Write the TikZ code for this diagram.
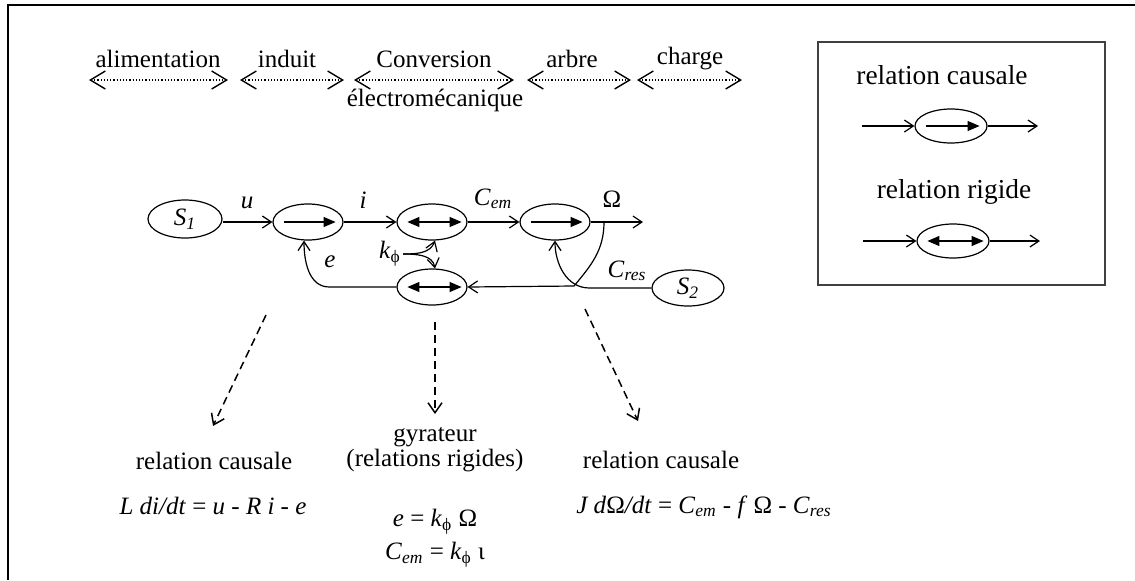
\documentclass[tikz,border=0pt]{standalone}
\usepackage{fontspec}
\setmainfont{Liberation Serif}
\usetikzlibrary{arrows.meta,shapes.geometric}
\newcommand{\lowtxt}[1]{\textsubscript{\itshape #1}}

\begin{document}
\begin{tikzpicture}[x=0.5pt,y=-0.5pt,
  font=\fontsize{12.5}{15}\selectfont,
  every node/.style={inner sep=1pt},
  bloc/.style={draw,ellipse,line width=0.6pt,minimum width=35pt,minimum height=18pt,inner sep=0pt},
  conn/.style={-{Straight Barb[length=4.5pt,width=6pt]},line width=0.6pt},
  span/.style={{Straight Barb[length=7.5pt,width=9pt,line width=0.7pt]}-{Straight Barb[length=7.5pt,width=9pt,line width=0.7pt]},densely dotted,line width=0.6pt},
  link/.style={-{Straight Barb[length=5pt,width=7pt]},dash pattern=on 4pt off 2.5pt,line width=0.75pt},
  cause/.style={-{Triangle[length=6pt,width=5pt]},line width=0.6pt},
  rigid/.style={{Triangle[length=6pt,width=5pt]}-{Triangle[length=6pt,width=5pt]},line width=0.6pt},
  legend/.style={font=\fontsize{13.7}{16}\selectfont}]
  \useasboundingbox (0,0) rectangle (1135,580);
  % outer frame
  \draw[line width=1.1pt] (8,580) -- (8,5) -- (1135,5);

  % domains along the chain
  \node (alim) at (158,59) {alimentation};
  \node (induit) at (287,59) {induit};
  \node (conv) at (434,59) {Conversion};
  \node (convb) at (435,100) {électromécanique};
  \node (arbre) at (572,59) {arbre};
  \node (charge) at (690,59) {charge};
  \coordinate (sp1a) at (89,80);  \coordinate (sp1b) at (228,80);
  \coordinate (sp2a) at (240,80); \coordinate (sp2b) at (344,80);
  \coordinate (sp3a) at (354,80); \coordinate (sp3b) at (514,80);
  \coordinate (sp4a) at (527,80); \coordinate (sp4b) at (631,80);
  \coordinate (sp5a) at (637,80); \coordinate (sp5b) at (742,80);
  \draw[span] (sp1a) -- (sp1b);
  \draw[span] (sp2a) -- (sp2b);
  \draw[span] (sp3a) -- (sp3b);
  \draw[span] (sp4a) -- (sp4b);
  \draw[span] (sp5a) -- (sp5b);

  % blocks of the graph
  \node[bloc,minimum width=37pt,minimum height=19pt] (src1) at (185,219) {\textit{S}\lowtxt{1}};
  \node[bloc] (causA) at (308,222) {};
  \node[bloc] (gyrA) at (432,222) {};
  \node[bloc] (gyrB) at (432,287) {};
  \node[bloc] (causB) at (555,222) {};
  \node[bloc,minimum width=36pt] (src2) at (688,288) {\textit{S}\lowtxt{2}};
  \coordinate (omega) at (643,222);
  \coordinate (tap) at (604,222);
  \draw[cause] ([xshift=6pt]causA.west) -- ([xshift=-4pt]causA.east);
  \draw[cause] ([xshift=6pt]causB.west) -- ([xshift=-4pt]causB.east);
  \draw[rigid] ([xshift=5.5pt]gyrA.west) -- ([xshift=-3pt]gyrA.east);
  \draw[rigid] ([xshift=5.5pt]gyrB.west) -- ([xshift=-3pt]gyrB.east);

  % connectors
  \draw[conn] (src1.east |- causA.west) -- (causA.west);
  \draw[conn] (causA.east) -- (gyrA.west);
  \draw[conn] (gyrA.east) -- (causB.west);
  \draw[conn] (causB.east) -- (omega);
  \draw[conn] (gyrB.west) -- ++(-67,0) to[out=180,in=-90] ([xshift=-2pt]causA.south);
  \draw[conn] (tap) to[out=-90,in=50] ++(-30,64) -- (gyrB.east);
  \draw[conn] (src2.west) -- ++(-62,0) to[out=180,in=-90] (causB.south);
  \node (kphi) at (390,254) {\textit{k}\textsubscript{ϕ}};
  \draw[conn] (kphi.east) to[out=0,in=-110] ([xshift=1.5pt]gyrA.south);
  \draw[conn] (kphi.east) to[out=0,in=100] ([xshift=1.5pt]gyrB.north);

  % variable names
  \node (lblu) at (247,203) {\textit{u}};
  \node (lbli) at (363,200) {\textit{i}};
  \node (lblcem) at (493,199) {\textit{C}\lowtxt{em}};
  \node (lblom) at (612,199) {Ω};
  \node (lble) at (330,262) {\textit{e}};
  \node (lblcres) at (627,271) {\textit{C}\lowtxt{res}};

  % equations below
  \coordinate (dA1) at (266,315); \coordinate (dA2) at (213,426);
  \coordinate (dB1) at (435,322); \coordinate (dB2) at (435,414);
  \coordinate (dC1) at (585,309); \coordinate (dC2) at (638,421);
  \draw[link] (dA1) -- (dA2);
  \draw[link] (dB1) -- (dB2);
  \draw[link] (dC1) -- (dC2);
  \node (relA) at (214,461) {relation causale};
  \node (eqA) at (213,506) {\textit{L di/dt} = \textit{u} - \textit{R i} - \textit{e}};
  \node (gyr) at (435,437) {gyrateur};
  \node (gyrrel) at (435,461) {(relations rigides)};
  \node (eqB1) at (435,522) {\textit{e} = \textit{k}\textsubscript{ϕ} Ω};
  \node (eqB2) at (435,555) {\textit{C}\lowtxt{em} = \textit{k}\textsubscript{ϕ} ι};
  \node (relB) at (661,460) {relation causale};
  \node (eqC) at (704,507) {\textit{J d}Ω\textit{/dt} = \textit{C}\lowtxt{em} - \textit{f} Ω - \textit{C}\lowtxt{res}};

  % legend
  \draw[line width=0.6pt,black!75] (818,42) rectangle (1105,285);
  \node[legend] (legCtxt) at (942,75) {relation causale};
  \node[bloc,minimum width=36pt,minimum height=17pt] (legC) at (951,126) {};
  \coordinate (legCin) at (862,126); \coordinate (legCout) at (1038,126);
  \draw[conn] (legCin) -- (legC.west);
  \draw[conn] (legC.east) -- (legCout);
  \draw[cause] ([xshift=6pt]legC.west) -- ([xshift=-4pt]legC.east);
  \node[legend] (legRtxt) at (954,192) {relation rigide};
  \node[bloc,minimum width=36pt,minimum height=17pt] (legR) at (953,241) {};
  \coordinate (legRin) at (863,241); \coordinate (legRout) at (1040,241);
  \draw[conn] (legRin) -- (legR.west);
  \draw[conn] (legR.east) -- (legRout);
  \draw[rigid] ([xshift=5.5pt]legR.west) -- ([xshift=-3pt]legR.east);
\end{tikzpicture}
\end{document}
